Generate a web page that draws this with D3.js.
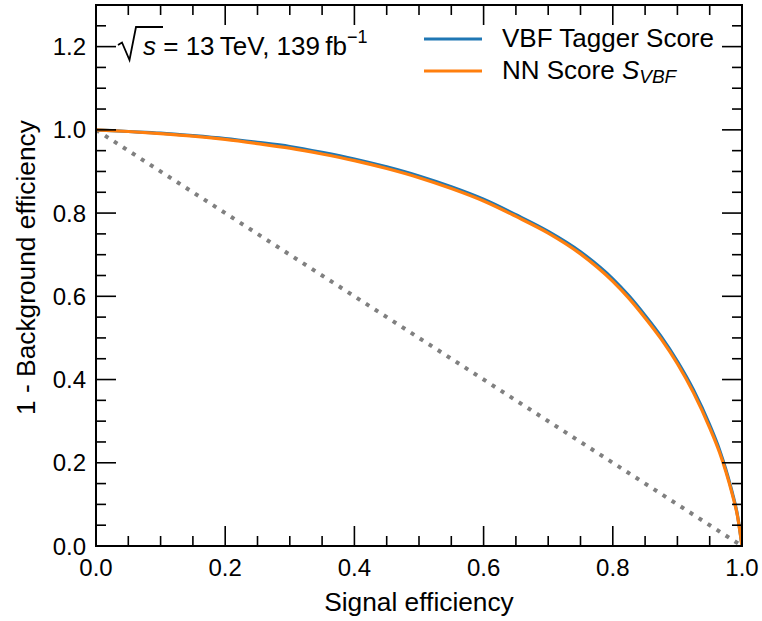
<!DOCTYPE html>
<html>
<head>
<meta charset="utf-8">
<script src="https://cdn.jsdelivr.net/npm/d3@7"></script>
<style>
  body { margin: 0; background: #fff; }
  svg text { font-family: "Liberation Sans", Arial, Helvetica, sans-serif; fill: #000; }
</style>
</head>
<body>
<svg id="chart" width="762" height="621"></svg>
<script>
// ROC curves: signal efficiency vs. background rejection (1 - background efficiency)
const signalEff    = [0, 0.05, 0.1, 0.15, 0.2, 0.25, 0.3, 0.35, 0.4, 0.45, 0.5, 0.55, 0.6, 0.65, 0.7, 0.75, 0.8, 0.825, 0.85, 0.875, 0.9, 0.925, 0.95, 0.965, 0.975, 0.985, 0.993, 1.0];
const vbfTaggerRej = [1.0, 0.996, 0.992, 0.986, 0.979, 0.970, 0.960, 0.946, 0.930, 0.911, 0.889, 0.863, 0.833, 0.796, 0.756, 0.707, 0.642, 0.601, 0.554, 0.503, 0.444, 0.375, 0.291, 0.232, 0.184, 0.128, 0.074, 0.0];
const nnScoreRej   = [1.0, 0.996, 0.991, 0.985, 0.977, 0.967, 0.956, 0.942, 0.926, 0.907, 0.885, 0.859, 0.829, 0.792, 0.752, 0.702, 0.636, 0.595, 0.548, 0.497, 0.438, 0.368, 0.284, 0.226, 0.179, 0.124, 0.072, 0.0];
const randomLine = [[0, 1], [1, 0]];

const xTicks = [0.0, 0.2, 0.4, 0.6, 0.8, 1.0];
const yTicks = [0.0, 0.2, 0.4, 0.6, 0.8, 1.0, 1.2];

const svg = d3.select("#chart");
const L = 96, R = 742, T = 5, B = 546;

const x = d3.scaleLinear().domain([0, 1]).range([L, R]);
const y = d3.scaleLinear().domain([0, 1.3]).range([B, T]);

svg.append("defs").append("clipPath").attr("id", "plotclip")
  .append("rect").attr("x", L).attr("y", T).attr("width", R - L).attr("height", B - T);

const plot = svg.append("g").attr("clip-path", "url(#plotclip)");

// diagonal reference (random classifier)
plot.append("path")
  .attr("d", d3.line().x(d => x(d[0])).y(d => y(d[1]))(randomLine))
  .attr("fill", "none").attr("stroke", "#808080")
  .attr("stroke-width", 4).attr("stroke-dasharray", "4,6.7");

const line = d3.line().curve(d3.curveMonotoneX);
const series = [
  { name: "VBF Tagger Score", values: vbfTaggerRej, color: "#1f77b4" },
  { name: "NN Score", values: nnScoreRej, color: "#ff7f0e" }
];
series.forEach(s => {
  plot.append("path")
    .attr("d", line(signalEff.map((v, i) => [x(v), y(s.values[i])])))
    .attr("fill", "none").attr("stroke", s.color).attr("stroke-width", 3.2);
});

// inward ticks on all four sides
const minorX = d3.range(0, 1.0001, 0.05);
const minorY = d3.range(0, 1.3001, 0.05);
const tickG = svg.append("g").attr("stroke", "#000").attr("stroke-width", 1.6);
const isMajor = v => Math.abs(v * 5 - Math.round(v * 5)) < 1e-6;
minorX.forEach(v => {
  const len = isMajor(v) ? 20 : 10;
  tickG.append("line").attr("x1", x(v)).attr("x2", x(v)).attr("y1", B).attr("y2", B - len);
  tickG.append("line").attr("x1", x(v)).attr("x2", x(v)).attr("y1", T).attr("y2", T + len);
});
minorY.forEach(v => {
  const len = isMajor(v) ? 20 : 10;
  tickG.append("line").attr("y1", y(v)).attr("y2", y(v)).attr("x1", L).attr("x2", L + len);
  tickG.append("line").attr("y1", y(v)).attr("y2", y(v)).attr("x1", R).attr("x2", R - len);
});

// frame
svg.append("rect").attr("x", L).attr("y", T).attr("width", R - L).attr("height", B - T)
  .attr("fill", "none").attr("stroke", "#000").attr("stroke-width", 2);

// tick labels
const fmt = d3.format(".1f");
svg.append("g").selectAll("text").data(xTicks).join("text")
  .attr("x", d => x(d)).attr("y", 576).attr("text-anchor", "middle")
  .attr("font-size", 24).text(fmt);
svg.append("g").selectAll("text").data(yTicks).join("text")
  .attr("x", 86).attr("y", d => y(d)).attr("dy", "0.36em").attr("text-anchor", "end")
  .attr("font-size", 24).text(fmt);

// axis titles
svg.append("text").attr("x", (L + R) / 2).attr("y", 611).attr("text-anchor", "middle")
  .attr("font-size", 26.3).text("Signal efficiency");
svg.append("text").attr("transform", `translate(35,${(T + B) / 2 - 8}) rotate(-90)`)
  .attr("text-anchor", "middle").attr("font-size", 26.3).text("1 - Background efficiency");

// energy / luminosity label with a radical sign
svg.append("path")
  .attr("d", "M118,45 L122,42.5 L129.5,60 L136,27 L163,27")
  .attr("fill", "none").attr("stroke", "#000").attr("stroke-width", 1.8);
const ann = svg.append("text").attr("x", 143).attr("y", 55).attr("font-size", 26);
ann.append("tspan").attr("font-style", "italic").text("s");
ann.append("tspan").text(" = 13\u2009TeV, 139\u2009fb");
ann.append("tspan").attr("dy", -12).attr("font-size", 18).text("\u22121");

// legend
const leg = svg.append("g");
const legRows = [
  { color: "#1f77b4", y: 39 },
  { color: "#ff7f0e", y: 71 }
];
legRows.forEach(r => {
  leg.append("line").attr("x1", 424).attr("x2", 482).attr("y1", r.y).attr("y2", r.y)
    .attr("stroke", r.color).attr("stroke-width", 3.2);
});
leg.append("text").attr("x", 502).attr("y", 47).attr("font-size", 26).text("VBF Tagger Score");
const t2 = leg.append("text").attr("x", 502).attr("y", 79).attr("font-size", 26);
t2.append("tspan").text("NN Score ");
t2.append("tspan").attr("font-style", "italic").text("S");
t2.append("tspan").attr("font-style", "italic").attr("font-size", 19).attr("dy", 4).text("VBF");
</script>
</body>
</html>
